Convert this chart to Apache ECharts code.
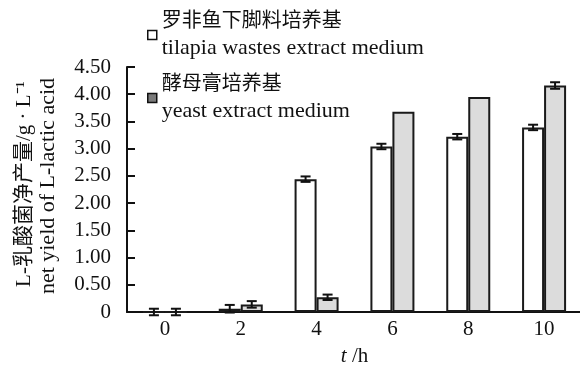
<!DOCTYPE html>
<html>
<head>
<meta charset="utf-8">
<script src="https://cdn.jsdelivr.net/npm/echarts@6/dist/echarts.min.js"></script>
<style>
html,body{margin:0;padding:0;background:#fff;}
#c{width:580px;height:365px;}
</style>
</head>
<body>
<div id="c"></div>
<script>
// ---- data ----
var categories = ['0', '2', '4', '6', '8', '10'];
var cnNames = ['罗非鱼下脚料培养基', '酵母膏培养基'];
var enNames = ['tilapia wastes extract medium', 'yeast extract medium'];
var tilapia = [0, 0.06, 2.44, 3.04, 3.22, 3.39];
var tilapiaErr = [0.06, 0.07, 0.05, 0.05, 0.05, 0.05];
var yeast = [0, 0.14, 0.27, 3.68, 3.95, 4.16];
var yeastErr = [0.06, 0.06, 0.05, 0, 0, 0.06];
var yTickLabels = ['0', '0.50', '1.00', '1.50', '2.00', '2.50', '3.00', '3.50', '4.00', '4.50'];
var yAxisTitle1 = 'L-乳酸菌净产量/g · L⁻¹';
var yAxisTitle2 = 'net yield of L-lactic acid';
var xAxisTitle = '{it|t} /h';

// ---- style ----
var FONT = "Liberation Serif, Noto Sans CJK SC, serif";
var BAR_W = 22;
var seriesNames = [cnNames[0] + '\n' + enNames[0], cnNames[1] + '\n' + enNames[1]];

function errData(vals, errs) {
  return vals.map(function (v, i) { return [i, v, errs[i]]; });
}
function errRender(offset) {
  return function (params, api) {
    var e = api.value(2);
    if (!e) return null;
    var i = api.value(0), v = api.value(1);
    var hi = api.coord([i, v + e]);
    var lo = api.coord([i, v - e]);
    var x = hi[0] + offset;
    var cap = 5;
    return {
      type: 'group',
      children: [
        {type: 'line', shape: {x1: x, y1: hi[1], x2: x, y2: lo[1]}, style: {stroke: '#111', lineWidth: 2}},
        {type: 'line', shape: {x1: x - cap, y1: hi[1], x2: x + cap, y2: hi[1]}, style: {stroke: '#111', lineWidth: 2}},
        {type: 'line', shape: {x1: x - cap, y1: lo[1], x2: x + cap, y2: lo[1]}, style: {stroke: '#111', lineWidth: 2}}
      ]
    };
  };
}

var chart = echarts.init(document.getElementById('c'), null, {renderer: 'canvas'});
chart.setOption({
  animation: false,
  backgroundColor: '#fff',
  textStyle: {fontFamily: FONT},
  grid: {left: 127, top: 67, width: 455, bottom: 53, containLabel: false, outerBoundsMode: 'none'},
  legend: {
    orient: 'vertical',
    left: 142,
    top: 7,
    itemWidth: 9,
    itemHeight: 9,
    itemGap: 16,
    icon: 'rect',
    formatter: function (name) {
      var k = seriesNames.indexOf(name);
      return '{cn|' + cnNames[k] + '}\n{en|' + enNames[k] + '}';
    },
    textStyle: {
      fontFamily: FONT, color: '#111',
      rich: {
        cn: {fontFamily: FONT, fontSize: 20, lineHeight: 26, color: '#111'},
        en: {fontFamily: FONT, fontSize: 22, lineHeight: 26, color: '#111'}
      }
    },
    data: [
      {name: seriesNames[0], itemStyle: {color: '#fff', borderColor: '#111', borderWidth: 1.5}},
      {name: seriesNames[1], itemStyle: {color: '#7a7a7a', borderColor: '#111', borderWidth: 1.5}}
    ]
  },
  xAxis: {
    type: 'category',
    data: categories,
    boundaryGap: true,
    axisLine: {lineStyle: {color: '#111', width: 2}},
    axisTick: {inside: true, length: 9, lineStyle: {color: '#111', width: 2}},
    axisLabel: {color: '#111', fontSize: 21, fontFamily: FONT, margin: 7},
    name: xAxisTitle,
    nameLocation: 'middle',
    nameGap: 34,
    nameTextStyle: {color: '#111', fontSize: 21, fontFamily: FONT, rich: {it: {fontStyle: 'italic', fontSize: 21, fontFamily: FONT, color: '#111'}}}
  },
  yAxis: {
    type: 'value',
    min: 0,
    max: 4.5,
    interval: 0.5,
    splitLine: {show: false},
    axisLine: {show: true, lineStyle: {color: '#111', width: 2}},
    axisTick: {show: true, inside: true, length: 8, lineStyle: {color: '#111', width: 2}},
    axisLabel: {
      color: '#111', fontSize: 21, fontFamily: FONT, margin: 16,
      formatter: function (v) { return yTickLabels[Math.round(v / 0.5)]; }
    }
  },
  graphic: [
    {type: 'text', x: 24, y: 184, rotation: Math.PI / 2,
     style: {text: yAxisTitle1, font: "21px " + FONT, fill: '#111', textAlign: 'center', textVerticalAlign: 'middle'}},
    {type: 'text', x: 48, y: 186, rotation: Math.PI / 2,
     style: {text: yAxisTitle2, font: "22px " + FONT, fill: '#111', textAlign: 'center', textVerticalAlign: 'middle'}}
  ],
  series: [
    {
      name: seriesNames[0], type: 'bar', data: tilapia, barWidth: BAR_W, barGap: '0%',
      itemStyle: {color: '#ffffff', borderColor: '#1a1a1a', borderWidth: 2}
    },
    {
      name: seriesNames[1], type: 'bar', data: yeast, barWidth: BAR_W, barGap: '0%',
      itemStyle: {color: '#dcdcdc', borderColor: '#1a1a1a', borderWidth: 2}
    },
    {
      type: 'custom', renderItem: errRender(-BAR_W / 2), data: errData(tilapia, tilapiaErr), z: 10, silent: true
    },
    {
      type: 'custom', renderItem: errRender(BAR_W / 2), data: errData(yeast, yeastErr), z: 10, silent: true
    }
  ]
});
</script>
</body>
</html>
